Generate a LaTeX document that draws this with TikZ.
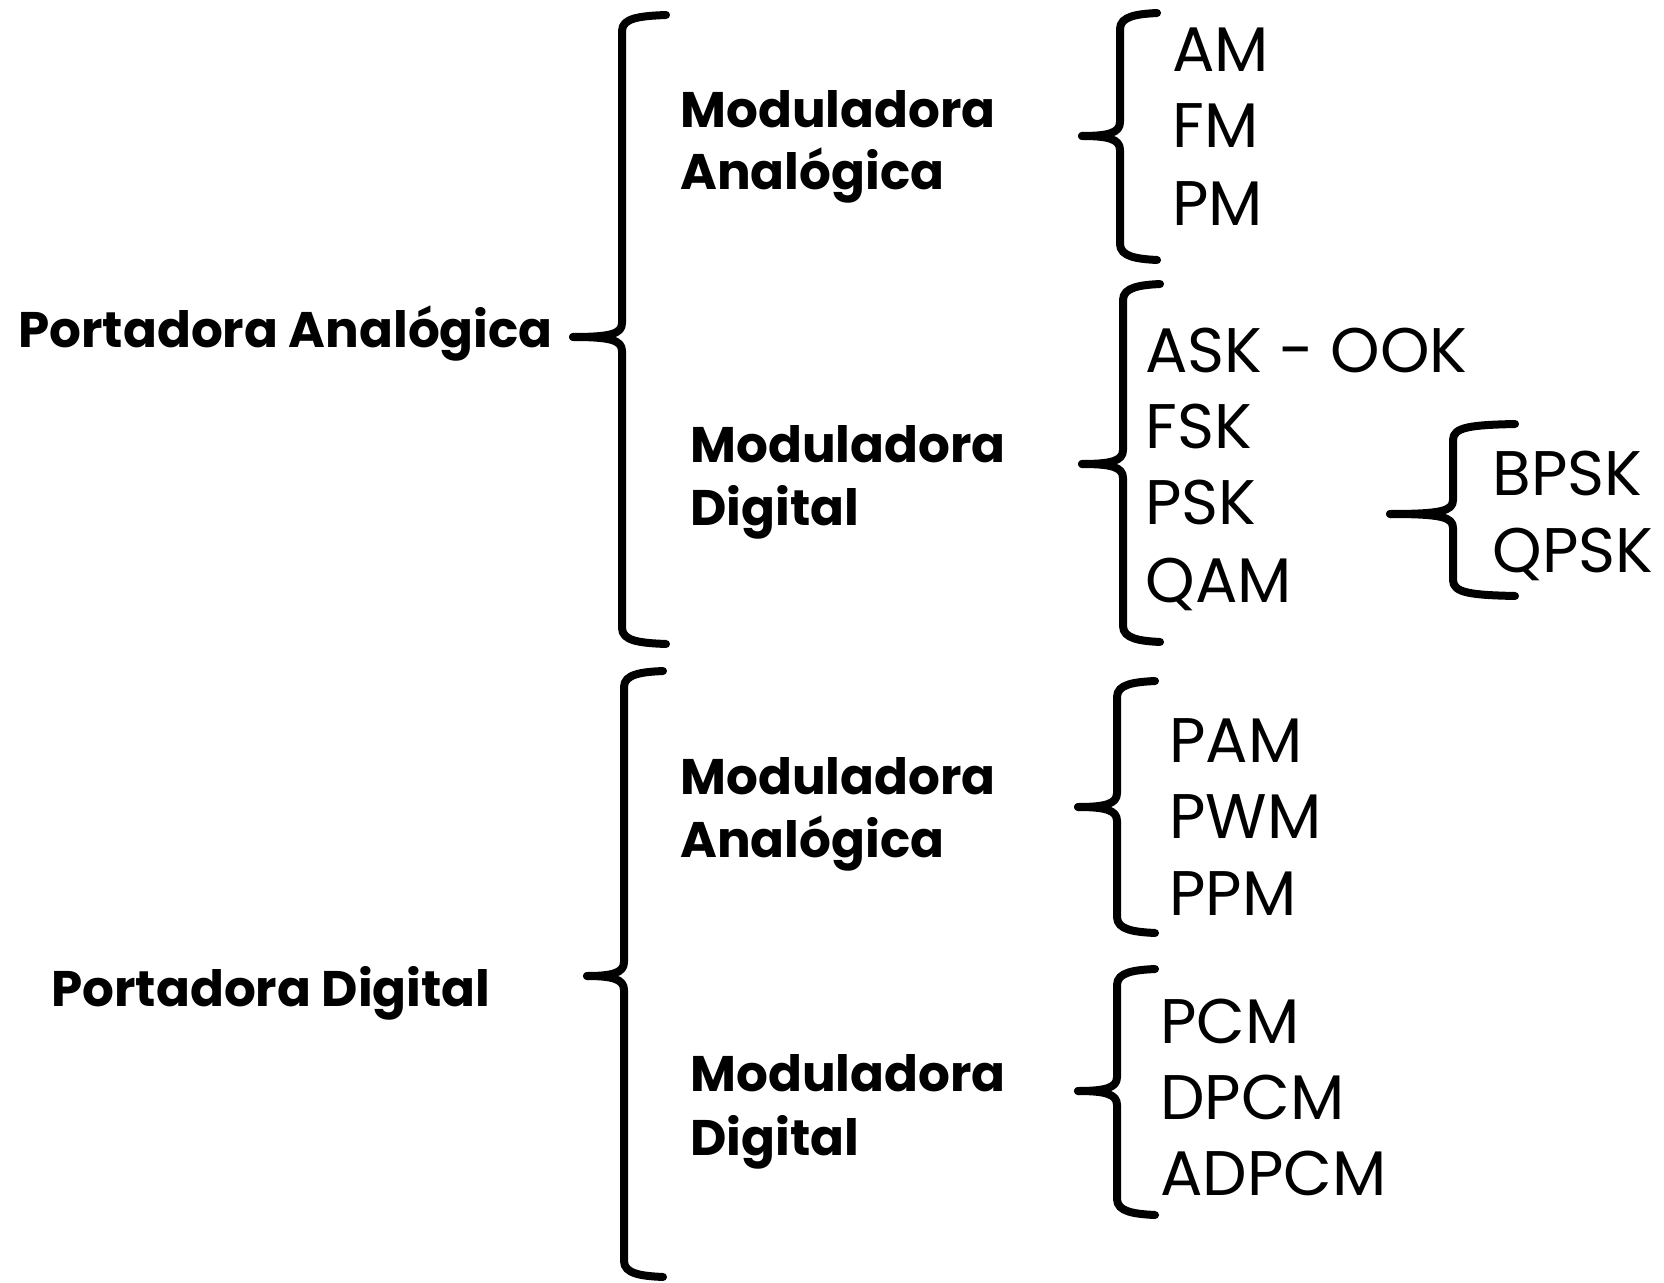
\documentclass[tikz,border=0pt]{standalone}
\usepackage{fontspec}
\setmainfont{Poppins}
\newcommand\mybrace[6]{%
  \draw[bracestyle] (#6,#2) .. controls ({#1+18},{#2+1}) and (#1,{#2+3}) .. (#1,{#2+16})
    -- (#1,{#5-14}) .. controls (#1,{#5-3}) and ({#1-12},{#5}) .. (#4,#5);
  \draw[bracestyle] (#4,#5) .. controls ({#1-12},{#5}) and (#1,{#5+3}) .. (#1,{#5+14})
    -- (#1,{#3-16}) .. controls (#1,{#3-3}) and ({#1+18},{#3-1}) .. (#6,#3);
}
\begin{document}
\begin{tikzpicture}[x=0.5pt,y=-0.5pt,
  bracestyle/.style={line width=4pt,line cap=round,line join=round},
  head/.style={anchor=base west,inner sep=0pt,font=\fontsize{25}{30}\selectfont\bfseries},
  item/.style={anchor=base west,inner sep=0pt,font=\fontsize{31.5}{38}\selectfont}]
\useasboundingbox (0,0) rectangle (1664,1283);
% level 1
\node[head] (pa) at (18,348) {Portadora Analógica};
\node[head] (pd) at (51,1006) {Portadora Digital};
\mybrace{622}{15}{644}{573}{337}{666}
\mybrace{624}{671}{1277}{587}{976}{663}
% level 2
\node[head] (ma1a) at (680,128) {Moduladora};
\node[head] (ma1b) at (680,190) {Analógica};
\node[head] (md1a) at (690,462) {Moduladora};
\node[head] (md1b) at (690,525) {Digital};
\node[head] (ma2a) at (680,794) {Moduladora};
\node[head] (ma2b) at (680,857) {Analógica};
\node[head] (md2a) at (690,1091) {Moduladora};
\node[head] (md2b) at (690,1155) {Digital};
\mybrace{1120}{13}{260}{1082}{136}{1157}
\mybrace{1123}{284}{642}{1082}{464}{1160}
\mybrace{1117}{681}{933}{1078}{807}{1155}
\mybrace{1117}{969}{1215}{1078}{1091}{1155}
% level 3
\node[item] (am) at (1172,72) {AM};
\node[item] (fm) at (1172,148) {FM};
\node[item] (pm) at (1172,226) {PM};
\node[item] (ask) at (1145,372) {ASK - OOK};
\node[item] (fsk) at (1145,448) {FSK};
\node[item] (psk) at (1145,524) {PSK};
\node[item] (qam) at (1145,602) {QAM};
\node[item] (pam) at (1169,762) {PAM};
\node[item] (pwm) at (1169,838) {PWM};
\node[item] (ppm) at (1169,915) {PPM};
\node[item] (pcm) at (1160,1043) {PCM};
\node[item] (dpcm) at (1160,1119) {DPCM};
\node[item] (adpcm) at (1160,1195) {ADPCM};
% level 4
\mybrace{1453}{424}{596}{1390}{514}{1515}
\node[item] (bpsk) at (1492,495) {BPSK};
\node[item] (qpsk) at (1492,572) {QPSK};
\end{tikzpicture}
\end{document}
